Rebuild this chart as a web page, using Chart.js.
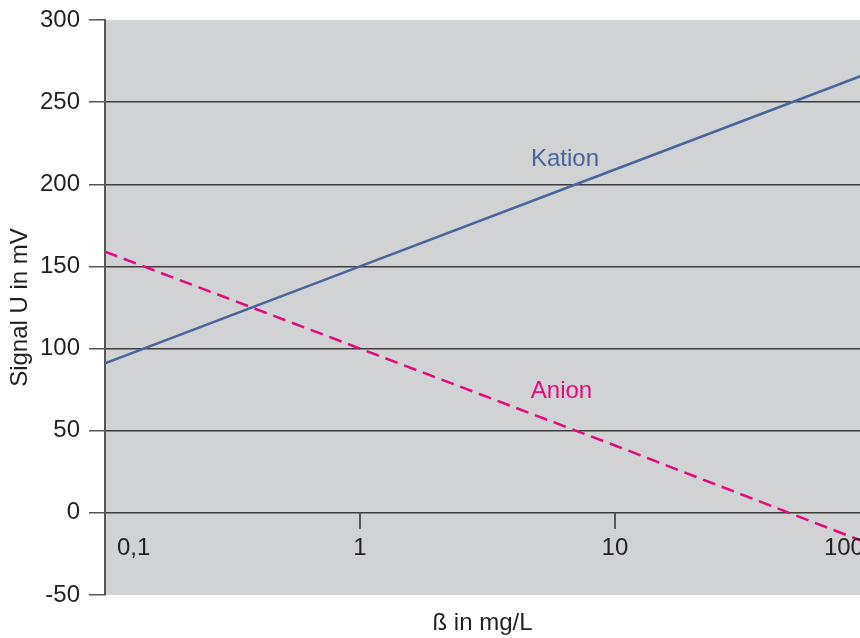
<!DOCTYPE html>
<html>
<head>
<meta charset="utf-8">
<script src="https://cdn.jsdelivr.net/npm/chart.js@4"></script>
<style>
	html, body { margin: 0; padding: 0; background: #fff; }
	#wrap { width: 860px; height: 638px; }
</style>
</head>
<body>
<div id="wrap"><canvas id="sensor_chart"></canvas></div>
<script>
// concentration in mg/L (log axis) and signal in mV
const concentration = [0.1, 1, 10, 100];
const kation = [91, 150, 209, 268];
const anion = [159, 100, 41, -19];

const xTickValues = [0.1, 1, 10, 100];
const xTickLabels = ['0,1', '1', '10', '100'];
const yTickValues = [-50, 0, 50, 100, 150, 200, 250, 300];

// where the two series names sit, in data units
const seriesLabels = [
	{ text: 'Kation', x: 6.37, y: 211, color: '#48659b' },
	{ text: 'Anion', x: 6.17, y: 70, color: '#e5097f' }
];

const FONT = '"Liberation Sans", Arial, sans-serif';
const TEXT = '#231f20';
const AXIS = '#555';

function points(ys) {
	return concentration.map((c, i) => ({ x: c, y: ys[i] }));
}

const plotDecor = {
	id: 'plotDecor',
	beforeDraw(chart) {
		const { ctx, chartArea: a } = chart;
		ctx.save();
		ctx.fillStyle = '#d1d2d4';
		ctx.fillRect(a.left, a.top, a.right - a.left, a.bottom - a.top);
		ctx.restore();
	},
	afterDatasetsDraw(chart) {
		const { ctx, chartArea: a } = chart;
		const xs = chart.scales.x, ys = chart.scales.y;
		const y0 = ys.getPixelForValue(0);
		ctx.save();
		ctx.beginPath();
		ctx.rect(a.left, a.top, a.right - a.left, a.bottom - a.top);
		ctx.clip();
		// small down ticks on the zero line
		ctx.strokeStyle = AXIS;
		ctx.lineWidth = 2;
		xTickValues.forEach(v => {
			const px = xs.getPixelForValue(v);
			ctx.beginPath();
			ctx.moveTo(px, y0);
			ctx.lineTo(px, y0 + 16);
			ctx.stroke();
		});
		// tick labels inside the plot, ends pulled inward
		ctx.font = '24px ' + FONT;
		ctx.fillStyle = TEXT;
		ctx.textBaseline = 'alphabetic';
		xTickValues.forEach((v, i) => {
			let px = xs.getPixelForValue(v);
			if (i === 0) {
				ctx.textAlign = 'left';
				px += 12;
			} else if (i === xTickValues.length - 1) {
				ctx.textAlign = 'right';
				px -= 6;
			} else {
				ctx.textAlign = 'center';
			}
			ctx.fillText(xTickLabels[i], px, y0 + 42.5);
		});
		ctx.restore();
		ctx.save();
		ctx.font = '24px ' + FONT;
		ctx.textAlign = 'center';
		ctx.textBaseline = 'alphabetic';
		seriesLabels.forEach(s => {
			ctx.fillStyle = s.color;
			ctx.fillText(s.text, xs.getPixelForValue(s.x), ys.getPixelForValue(s.y));
		});
		ctx.restore();
	}
};

const ctx = document.querySelector('#sensor_chart').getContext('2d');
const myChart = new Chart(ctx, {
	type: 'line',
	data: {
		datasets: [{
			label: 'Kation',
			data: points(kation),
			borderColor: '#48659b',
			borderWidth: 2.5,
			pointRadius: 0,
			tension: 0
		}, {
			label: 'Anion',
			data: points(anion),
			borderColor: '#e5097f',
			borderWidth: 2.5,
			borderDash: [13, 7],
			pointRadius: 0,
			tension: 0
		}]
	},
	options: {
		responsive: true,
		maintainAspectRatio: false,
		animation: false,
		layout: { padding: { top: 20, right: 0, left: 0, bottom: 0 } },
		plugins: {
			legend: { display: false },
			tooltip: { enabled: false }
		},
		scales: {
			x: {
				type: 'logarithmic',
				min: 0.1,
				max: 91.4,
				afterFit: scale => {
					scale.height = 43;
					scale.paddingLeft = 0;
					scale.paddingRight = 0;
				},
				ticks: { display: false },
				grid: { display: false },
				border: { display: false },
				title: {
					display: true,
					text: 'ß in mg/L',
					color: TEXT,
					font: { family: FONT, size: 24 },
					padding: { top: 0, bottom: 0 }
				}
			},
			y: {
				min: -50,
				max: 300,
				afterFit: scale => {
					scale.width = 105;
					scale.paddingTop = 0;
					scale.paddingBottom = 0;
				},
				afterBuildTicks: scale => {
					scale.ticks = yTickValues.map(v => ({ value: v }));
				},
				ticks: {
					color: TEXT,
					padding: 9,
					font: { family: FONT, size: 24 }
				},
				grid: {
					color: c => (c.tick && (c.tick.value === 300 || c.tick.value === -50)) ? 'rgba(0,0,0,0)' : '#3d3d3d',
					tickColor: AXIS,
					tickLength: 16,
					lineWidth: 1.5
				},
				border: { display: true, color: AXIS, width: 2 },
				title: {
					display: true,
					text: 'Signal U in mV',
					color: TEXT,
					font: { family: FONT, size: 24 },
					padding: { top: 6, bottom: 0 }
				}
			}
		}
	},
	plugins: [plotDecor]
});
</script>
</body>
</html>
